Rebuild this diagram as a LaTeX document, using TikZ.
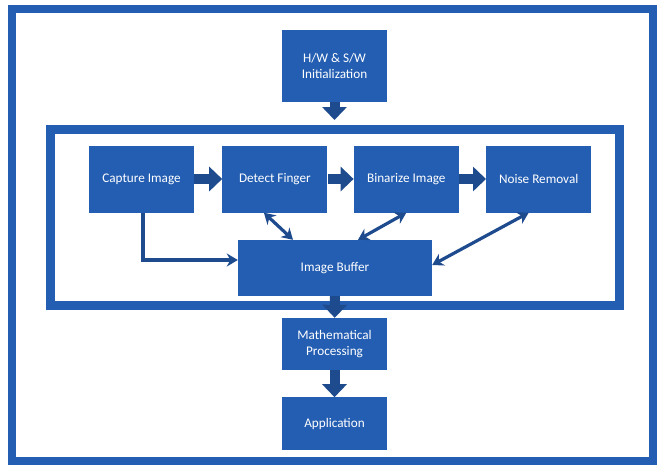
\documentclass[tikz,border=0pt]{standalone}
\usepackage{fontspec}
\setmainfont{Carlito}
\usetikzlibrary{arrows.meta, positioning}

\definecolor{boxblue}{RGB}{36,94,178}
\definecolor{arrowblue}{RGB}{30,74,142}

\begin{document}
\begin{tikzpicture}[x=1pt, y=-1pt, node distance=27pt,
    blk/.style={draw=none, fill=boxblue, text=white, rectangle, minimum width=105pt, minimum height=67pt, inner sep=2pt, align=center, font=\fontsize{13.2}{16}\selectfont},
    frame/.style={draw=boxblue, line width=9pt, rectangle, inner sep=0pt},
    fat/.style={draw=arrowblue, line width=10pt, -{Triangle[length=13pt, width=24pt]}},
    link/.style={draw=arrowblue, line width=3.2pt, -{Stealth[length=11pt, width=13pt]}},
    both/.style={link, {Stealth[length=11pt, width=13pt]}-{Stealth[length=11pt, width=13pt]}}]
    \useasboundingbox (0,0) rectangle (659,466);
    \draw[boxblue, line width=8pt] (12,9) rectangle (653,461);

    % set-up and the processing loop
    \node[blk, minimum height=72pt] (init) at (334.5,66) {H/W \& S/W\\Initialization};
    \node[frame, minimum width=569pt, minimum height=176pt] (loop) at (334.5,217) {};

    \node[blk] (cap) at (141.5,179) {Capture Image};
    \node[blk, right=28pt of cap] (det) {Detect Finger};
    \node[blk, right=26pt of det] (bin) {Binarize Image};
    \node[blk, right=of bin] (noise) {Noise Removal};
    \node[blk, minimum width=194pt, minimum height=56pt] (buf) at (335,268) {Image Buffer};

    % after the loop
    \node[blk, minimum height=52pt] (math) at (334.5,344) {Mathematical\\Processing};
    \node[blk, minimum height=53pt, below=27pt of math] (app) {Application};

    \draw[fat] (init) -- ([yshift=4.5pt]loop.north);
    \draw[fat] (cap) -- (det);
    \draw[fat] (det) -- (bin);
    \draw[fat] (bin) -- (noise);
    \draw[fat] (buf) -- (math);
    \draw[fat] (math) -- (app);

    \draw[link] ([xshift=1.5pt]cap.south) |- ([yshift=8pt]buf.west);
    \draw[both] ([xshift=-11pt]det.south) -- ([xshift=-42pt]buf.north);
    \draw[both] (bin.south) -- ([xshift=23pt]buf.north);
    \draw[both] ([xshift=-10pt]noise.south) -- ([yshift=3pt]buf.east);
\end{tikzpicture}
\end{document}
